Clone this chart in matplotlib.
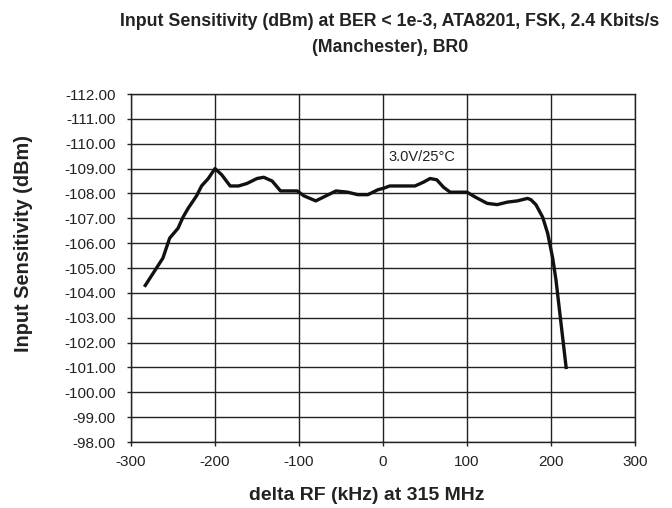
import matplotlib
matplotlib.use("Agg")
import matplotlib.pyplot as plt

plt.rcParams['font.family'] = ['Liberation Sans', 'DejaVu Sans']
plt.rcParams['axes.unicode_minus'] = False

delta_rf = [-283, -262, -254, -244, -238, -232, -222, -216, -208, -200, -192, -182, -172,
            -162, -150, -142, -132, -122, -102, -94, -80, -68, -56, -42, -30, -18, -6,
            0, 8, 38, 48, 56, 64, 72, 80, 100, 110, 124, 136, 148, 160, 172, 176, 182,
            190, 196, 202, 206, 218]
sensitivity = [-104.3, -105.4, -106.2, -106.6, -107.05, -107.4, -107.9, -108.3, -108.6, -109.0,
               -108.75, -108.3, -108.3, -108.4, -108.6, -108.65, -108.5, -108.1, -108.1,
               -107.9, -107.7, -107.9, -108.1, -108.05, -107.95, -107.95, -108.15,
               -108.2, -108.3, -108.3, -108.45, -108.6, -108.55, -108.25, -108.05, -108.05,
               -107.85, -107.6, -107.55, -107.65, -107.7, -107.8, -107.75, -107.55,
               -107.05, -106.4, -105.4, -104.5, -101.0]

x_ticks = [-300, -200, -100, 0, 100, 200, 300]
y_ticks = list(range(-112, -97))

fig = plt.figure(figsize=(6.72, 5.08), dpi=100)
ax = fig.add_axes([131/672, 1-442/508, (635-131)/672, (442-94)/508])

ax.plot(delta_rf, sensitivity, color='#111111', lw=2.4, solid_joinstyle='round', zorder=3)

ax.set_xlim(-300, 300)
ax.set_ylim(-98, -112)
ax.set_xticks(x_ticks)
ax.set_yticks(y_ticks)
ax.set_yticklabels([f"{v:.2f}" for v in y_ticks])
ax.grid(True, color='#222222', lw=1.0)
ax.set_axisbelow(True)
for s in ax.spines.values():
    s.set_color('#222222')
    s.set_linewidth(1.0)
ax.tick_params(direction='out', length=3, width=1, color='#222222', labelsize=11,
               labelcolor='#222222')
ax.tick_params(axis='x', pad=6)
ax.tick_params(axis='y', pad=8)

ax.text(6, -109.45, "3.0V/25°C", fontsize=10.5, ha='left', va='center', color='#222222')

fig.text(390/672, 1-22/508, "Input Sensitivity (dBm) at BER < 1e-3, ATA8201, FSK, 2.4 Kbits/s",
         ha='center', va='center', fontsize=12.8, fontweight='bold', color='#222222')
fig.text(390/672, 1-47/508, "(Manchester), BR0",
         ha='center', va='center', fontsize=12.8, fontweight='bold', color='#222222')
fig.text(24/672, 1-243/508, "Input Sensitivity (dBm)", rotation=90,
         ha='center', va='center', fontsize=14.3, fontweight='bold', color='#222222')
fig.text(367/672, 1-495/508, "delta RF (kHz) at 315 MHz",
         ha='center', va='center', fontsize=14, fontweight='bold', color='#222222')

fig.savefig("out.png", dpi=100)
